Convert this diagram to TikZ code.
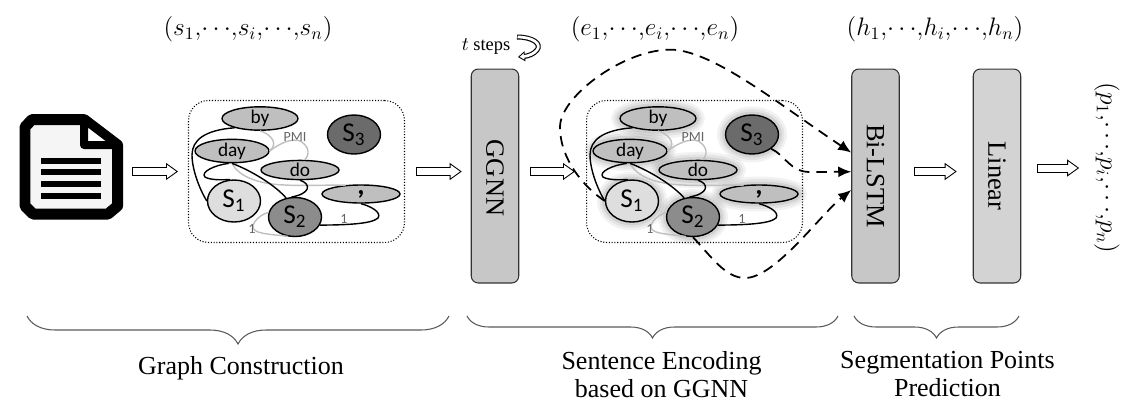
\documentclass[tikz,border=0pt]{standalone}
\usepackage{amsmath, amssymb}
\usepackage{fontspec}
\setmainfont{Liberation Serif}
\newfontfamily\graphfont{Carlito}
\usepackage{xcolor}
\usetikzlibrary{calc, shapes.geometric, positioning, arrows.meta, decorations.pathreplacing}

\definecolor{wordgray}{gray}{0.75}
\definecolor{layergray}{gray}{0.78}
\definecolor{sonegray}{gray}{0.87}
\definecolor{stwogray}{gray}{0.55}
\definecolor{sthreegray}{gray}{0.42}
\definecolor{edgegray}{gray}{0.75}

\tikzset{
    wordnode/.style={ellipse, draw, thick, fill=wordgray, inner sep=0pt, font=\graphfont\fontsize{11}{11}\selectfont},
    sentnode/.style={ellipse, draw, thick, minimum width=1.06cm, minimum height=0.78cm, inner sep=0pt, font=\graphfont\fontsize{15.5}{15.5}\selectfont},
    layerbox/.style={draw=black!80, semithick, rounded corners=0.14cm, minimum width=0.95cm, minimum height=4.28cm, inner sep=0pt, font=\fontsize{15}{16}\selectfont},
    graphbox/.style={draw, densely dotted, line width=0.6pt, rounded corners=0.4cm, minimum width=4.32cm, minimum height=2.84cm, inner sep=0pt},
    blockarrow/.style 2 args={draw=black, line width=0.18cm, shorten <=#1, shorten >=#2,
        -{Triangle[length=0.24cm, width=0.34cm, fill=white, color=black, line width=0.5pt]},
        postaction={draw=white, line width=0.14cm, -, shorten <=#1+0.02cm, shorten >=#2+0.2cm}},
    looparrow/.style={draw=black, line width=0.1cm,
        -{Triangle[length=0.14cm, width=0.2cm, fill=white, color=black, line width=0.5pt]},
        postaction={draw=white, line width=0.055cm, -, shorten >=0.12cm, shorten <=0.01cm}},
    dasharrow/.style={line width=1pt, dash pattern=on 6pt off 4pt, -{Latex[length=0.26cm, width=0.22cm]}},
    blackedge/.style={thick, black},
    grayedge/.style={thick, edgegray},
    nohalo/.style={},
    halo/.style={
        preaction={draw=black, draw opacity=.05, line width=0.34cm},
        preaction={draw=black, draw opacity=.06, line width=0.24cm},
        preaction={draw=black, draw opacity=.08, line width=0.14cm}},
    underbrace/.style={gray!70!black, semithick, decorate, decoration={brace, mirror, amplitude=#1}},
    smalllabel/.style={text=gray!80!black, inner sep=0pt, font=\graphfont\fontsize{8}{8}\selectfont},
    steplabel/.style={font=\fontsize{14.8}{16}\selectfont, align=center},
    tuplelabel/.style={font=\fontsize{14}{16}\selectfont}
}

\begin{document}
\begin{tikzpicture}[x=0.02cm, y=-0.02cm, >=latex]
    \useasboundingbox (0,0) rectangle (1132,410);

    % Biểu tượng tài liệu
    \node[minimum size=2.12cm, inner sep=0pt] (doc) at (71,166) {};
    \draw[line width=0.22cm, line join=round, fill=gray!8]
        (32,119.5) -- (84,119.5) -- (117.5,145) -- (117.5,206) -- (108,214) -- (33,214) -- (25,206) -- (25,127) -- cycle;
    \draw[line width=0.16cm, line join=round, fill=white] (84,119.5) -- (84,145) -- (117.5,145) -- cycle;
    \foreach \y in {161,172,184,196} {
        \fill (41,\y-2.8) rectangle (101,\y+2.8);
    }

    % Hai đồ thị
    \foreach \pre/\dx/\halo in {a/0/nohalo, b/398/halo} {
    \begin{scope}[shift={(\dx,0)}, name prefix=\pre-]
        \node[graphbox] (box) at (296.5,171.5) {};
        \node[wordnode, \halo, minimum width=1.52cm, minimum height=0.4cm] (by) at (260,118.5) {by};
        \node[wordnode, \halo, minimum width=1.48cm, minimum height=0.32cm] (day) at (232,151) {day};
        \node[wordnode, \halo, minimum width=1.56cm, minimum height=0.36cm] (do) at (300,170) {do};
        \node[wordnode, \halo, minimum width=1.56cm, minimum height=0.36cm] (comma) at (361,194) {\raisebox{1pt}{\fontsize{16}{16}\selectfont\bfseries ,}};
        \node[sentnode, \halo, fill=sonegray, minimum height=0.84cm] (S1) at (234,201) {S\textsubscript{1}};
        \node[sentnode, \halo, fill=stwogray] (S2) at (295,217) {S\textsubscript{2}};
        \node[sentnode, \halo, fill=sthreegray] (S3) at (354,134.5) {S\textsubscript{3}};

        \draw[grayedge] (by.south) .. controls (268,133) and (280,142) .. (day.east);
        \draw[grayedge] (day.east) .. controls (280,143) and (292,138) .. (300,141) .. controls (306,144) and (312,152) .. (do.65);
        \draw[grayedge] (day.south) .. controls (238,175) and (255,184) .. (285,185) .. controls (300,186) and (320,185) .. (comma.150);
        \draw[grayedge] (S2.170) .. controls (258,215) and (246,228) .. (258,232) .. controls (268,235) and (280,235) .. (S2.250);
        \draw[blackedge] (by.200) .. controls (205,130) and (192,140) .. (192,155) .. controls (192,170) and (200,190) .. (S1.west);
        \draw[blackedge] (day.255) .. controls (215,165) and (200,172) .. (205,177) .. controls (210,180) and (220,180) .. (S1.100);
        \draw[blackedge] (day.south) .. controls (245,168) and (272,182) .. (S2.115);
        \draw[blackedge] (do.south) .. controls (312,184) and (310,194) .. (S2.100);
        \draw[blackedge] (S2.-18) .. controls (345,225) and (372,224) .. (378,218) .. controls (382,212) and (370,206) .. (comma.south);
        \node[smalllabel] (pmi) at (295,137) {PMI};
        \node[smalllabel] (oneleft) at (252,229) {1};
        \node[smalllabel] (oneright) at (344,219) {1};
    \end{scope}
    }

    % Các khối
    \node[layerbox, fill=layergray] (ggnn) at (495,176) {\raisebox{-2.3pt}{\rotatebox{-90}{GGNN}}};
    \node[layerbox, fill=layergray] (lstm) at (875.5,176) {\rotatebox{-90}{Bi-LSTM}};
    \node[layerbox, fill=sonegray!95!black] (linear) at (997,176) {\rotatebox{-90}{Linear}};

    % Nhãn
    \node[tuplelabel] (stuple) at (248,29) {$(s_1{,}\!\cdots\!{,}s_i{,}\!\cdots\!{,}s_n)$};
    \node[tuplelabel] (etuple) at (655,29) {$(e_1{,}\!\cdots\!{,}e_i{,}\!\cdots\!{,}e_n)$};
    \node[tuplelabel] (htuple) at (935,29) {$(h_1{,}\!\cdots\!{,}h_i{,}\!\cdots\!{,}h_n)$};
    \node[tuplelabel, rotate=-90] (ptuple) at (1107,168) {$(p_1{,}\!\cdots\!{,}p_i{,}\!\cdots\!{,}p_n)$};
    \node[font=\fontsize{10.5}{12}\selectfont, inner sep=0pt] (tsteps) at (486,47) {$t$ steps};

    % Mũi tên vòng
    \coordinate (loopstart) at (517,37);
    \coordinate (loopend) at (518,57);
    \draw[looparrow] (loopstart) .. controls (533,37) and (542,44) .. (537,50) .. controls (534,54) and (528,56) .. (loopend);

    % Mũi tên khối
    \draw[blockarrow={0.16cm}{0.2cm}] (doc.east |- a-box.west) -- (a-box.west);
    \draw[blockarrow={0.22cm}{0.18cm}] (a-box.east) -- (ggnn.west |- a-box.east);
    \draw[blockarrow={0.22cm}{0.22cm}] (ggnn.east |- b-box.west) -- (b-box.west);
    \draw[blockarrow={0.28cm}{0.32cm}] (lstm.east |- b-box.east) -- (linear.west |- b-box.east);
    \draw[blockarrow={0.32cm}{0.18cm}] (linear.east |- ptuple.south) -- (ptuple.south);

    % Mũi tên nét đứt
    \draw[dasharrow] (b-S1.west) .. controls (585,188) and (560,160) .. (560,127) .. controls (560,95) and (630,45) .. (677,50) .. controls (720,56) and (780,105) .. (lstm.136);
    \draw[dasharrow] (b-S3.south east) .. controls (785,155) and (790,172) .. (810,172) -- (lstm.170);
    \draw[dasharrow] (b-S2.south) .. controls (710,255) and (725,278) .. (745,278) .. controls (775,278) and (820,215) .. (lstm.210);

    % Dấu ngoặc
    \coordinate (gcleft) at (27,316);
    \coordinate (gcright) at (449,316);
    \coordinate (seleft) at (467,316);
    \coordinate (seright) at (838,316);
    \coordinate (spleft) at (854,316);
    \coordinate (spright) at (1019,316);
    \draw[underbrace=0.56cm] (gcleft) -- (gcright) node[midway, below=0.68cm, xshift=0.06cm, text=black, steplabel] (gclabel) {Graph Construction};
    \draw[underbrace=0.44cm] (seleft) -- (seright) node[midway, below=0.58cm, xshift=0.18cm, text=black, steplabel] (selabel) {Sentence Encoding\\based on GGNN};
    \draw[underbrace=0.44cm] (spleft) -- (spright) node[midway, below=0.58cm, xshift=0.22cm, text=black, steplabel] (splabel) {Segmentation Points\\Prediction};
\end{tikzpicture}
\end{document}
